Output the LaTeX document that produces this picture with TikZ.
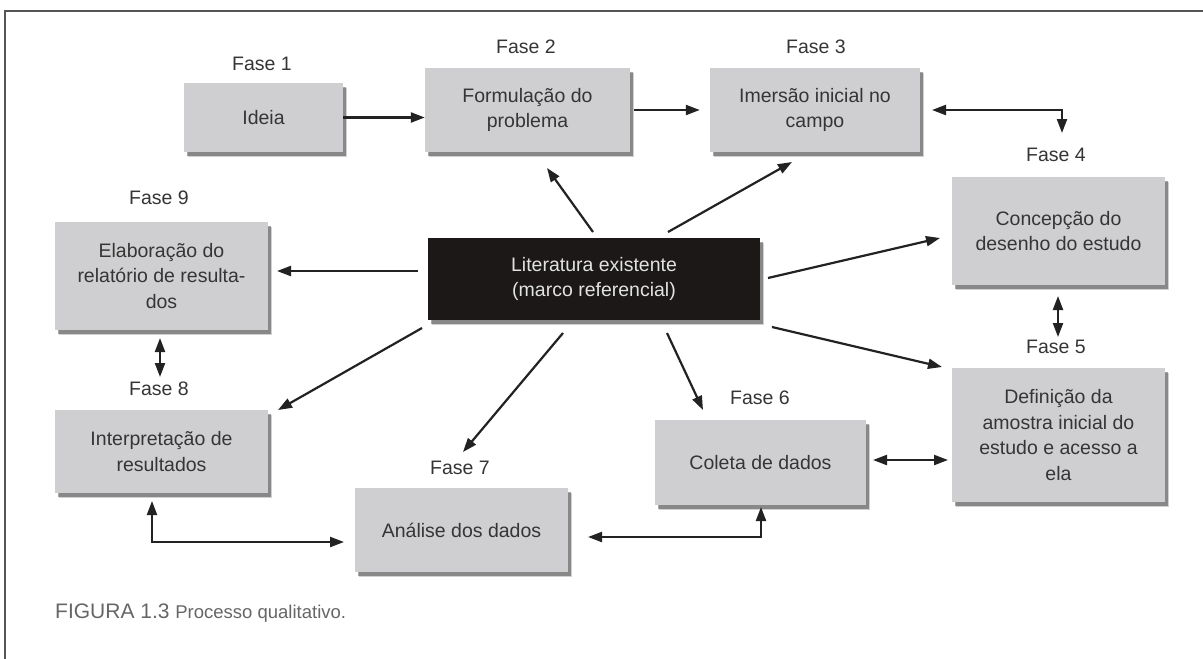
\documentclass[tikz,border=0pt]{standalone}
\usepackage{fontspec}
\setmainfont{Liberation Sans}
\usetikzlibrary{arrows.meta,shadows,calc}
\definecolor{boxgray}{HTML}{CFCFD1}
\definecolor{txt}{HTML}{353535}
\definecolor{litfill}{HTML}{1C1818}
\definecolor{littxt}{HTML}{E2E2E2}
\definecolor{linec}{HTML}{222222}
\definecolor{capc}{HTML}{666666}
\definecolor{framec}{HTML}{555555}
\begin{document}
\begin{tikzpicture}[x=1pt,y=-1pt,
  phase/.style={draw=none, fill=boxgray, text=txt, align=center,
    font=\fontsize{19.5}{25.5}\selectfont, inner sep=0pt,
    drop shadow={shadow xshift=4pt, shadow yshift=-5pt, fill=black, opacity=0.18},
    drop shadow={shadow xshift=2.5pt, shadow yshift=-3.5pt, fill=black, opacity=0.35}},
  lbl/.style={text=txt, font=\fontsize{19.5}{23}\selectfont, inner sep=0pt},
  arr/.style={draw=linec, line width=2.2pt, -{Triangle[length=14pt,width=10pt]}},
  darr/.style={draw=linec, line width=2.2pt, {Triangle[length=14pt,width=10pt]}-{Triangle[length=14pt,width=10pt]}},
]
\useasboundingbox (0,0) rectangle (1203,659);
\fill[white] (0,0) rectangle (1203,659);
\draw[framec, line width=2pt] (5,659) -- (5,11) -- (1203,11);

% boxes
\node[phase, minimum width=159pt, minimum height=69pt] (ideia) at (263.5,117.5) {Ideia};
\node[phase, minimum width=205pt, minimum height=84pt] (form) at (527.5,110) {Formulação do\\problema};
\node[phase, minimum width=210pt, minimum height=84pt] (imer) at (815,110) {Imersão inicial no\\campo};
\node[phase, minimum width=213pt, minimum height=108pt] (conc) at (1058.5,231) {Concepção do\\desenho do estudo};
\node[phase, minimum width=213pt, minimum height=134pt] (defi) at (1058.5,435) {Definição da\\amostra inicial do\\estudo e acesso a\\ela};
\node[phase, minimum width=211pt, minimum height=85pt] (colet) at (760.5,462.5) {Coleta de dados};
\node[phase, minimum width=213pt, minimum height=84pt] (anal) at (461.5,530) {Análise dos dados};
\node[phase, minimum width=213pt, minimum height=83pt] (interp) at (161.5,451.5) {Interpretação de\\resultados};
\node[phase, minimum width=213pt, minimum height=108pt] (elab) at (161.5,276) {Elaboração do\\relatório de resulta-\\dos};
\node[phase, fill=litfill, text=littxt, minimum width=332pt, minimum height=82pt] (lit) at (594,279) {Literatura existente\\(marco referencial)};

% phase labels
\node[lbl] (f1) at (262,64) {Fase 1};
\node[lbl] (f2) at (526,47) {Fase 2};
\node[lbl] (f3) at (816,47) {Fase 3};
\node[lbl] (f4) at (1056,155) {Fase 4};
\node[lbl] (f5) at (1056,347) {Fase 5};
\node[lbl] (f6) at (760,398) {Fase 6};
\node[lbl] (f7) at (460,468) {Fase 7};
\node[lbl] (f8) at (159,389) {Fase 8};
\node[lbl] (f9) at (159,198) {Fase 9};

% sequence arrows
\draw[arr] (ideia.east) -- (ideia.east -| form.west);
\draw[arr] ([xshift=4pt]form.east) -- ([xshift=-10pt]imer.west);

% radiating arrows from the literature box
\coordinate (s2) at (593,232); \coordinate (e2) at (547,168);
\coordinate (s3) at (668,232); \coordinate (e3) at (792,162);
\coordinate (s4) at (768,278); \coordinate (e4) at (940,238);
\coordinate (s5) at (772,327); \coordinate (e5) at (942,367);
\coordinate (s6) at (667,333); \coordinate (e6) at (703,410);
\coordinate (s7) at (563,333); \coordinate (e7) at (463,452);
\coordinate (s8) at (422,328); \coordinate (e8) at (278,410);
\coordinate (s9) at (418,271); \coordinate (e9) at (277,271);
\foreach \i in {2,...,9} {\draw[arr] (s\i) -- (e\i);}

% two-way connectors
\coordinate (c3a) at (932,110); \coordinate (c3b) at (1062,133);
\draw[darr] (c3a) -| (c3b);
\coordinate (c45a) at (1058,296); \coordinate (c45b) at (1058,337);
\draw[darr] (c45a) -- (c45b);
\coordinate (c56a) at (873,460); \coordinate (c56b) at (948,460);
\draw[darr] (c56a) -- (c56b);
\coordinate (c67a) at (761,507); \coordinate (c67b) at (588,537);
\draw[darr] (c67a) |- (c67b);
\coordinate (c78a) at (152,501); \coordinate (c78b) at (344,542);
\draw[darr] (c78a) |- (c78b);
\coordinate (c89a) at (160,338); \coordinate (c89b) at (160,377);
\draw[darr] (c89a) -- (c89b);

% caption
\node[anchor=base west, text=capc, inner sep=0pt, font=\fontsize{21}{24}\selectfont] (cap) at (55,618) {FIGURA 1.3 {\fontsize{18.5}{22}\selectfont Processo qualitativo.}};
\end{tikzpicture}
\end{document}
